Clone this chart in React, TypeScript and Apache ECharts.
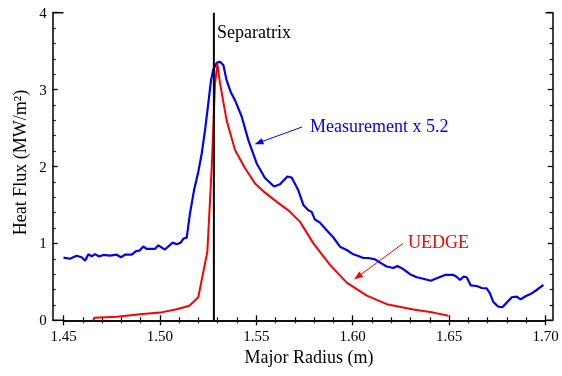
import React, { useEffect, useRef } from "react";
import * as echarts from "echarts";

// Measurement (x 5.2): [major radius (m), heat flux (MW/m^2)]
const measR = [
  1.4500, 1.4534, 1.4568, 1.4594, 1.4612, 1.4629, 1.4646, 1.4663, 1.4686, 1.4706,
  1.4741, 1.4776, 1.4798, 1.4819, 1.4854, 1.4876, 1.4893, 1.4914, 1.4931, 1.4975,
  1.4992, 1.5026, 1.5066, 1.5087, 1.5108, 1.5121, 1.5139, 1.5156, 1.5177, 1.5199,
  1.5217, 1.5234, 1.5251, 1.5265, 1.5277, 1.5295, 1.5312, 1.5329, 1.5346, 1.5367,
  1.5390, 1.5424, 1.5459, 1.5502, 1.5545, 1.5592, 1.5623, 1.5661, 1.5684, 1.5718,
  1.5744, 1.5770, 1.5787, 1.5804, 1.5830, 1.5865, 1.5899, 1.5934, 1.5969, 1.6003,
  1.6029, 1.6055, 1.6081, 1.6116, 1.6142, 1.6176, 1.6211, 1.6231, 1.6262, 1.6297,
  1.6332, 1.6366, 1.6404, 1.6436, 1.6479, 1.6522, 1.6539, 1.6557, 1.6574, 1.6591,
  1.6612, 1.6643, 1.6669, 1.6695, 1.6712, 1.6729, 1.6755, 1.6776, 1.6799, 1.6825,
  1.6851, 1.6871, 1.6899, 1.6928, 1.6954, 1.6989,
];
const measQ = [
  0.814, 0.80, 0.84, 0.82, 0.775, 0.86, 0.83, 0.86, 0.83, 0.85,
  0.84, 0.853, 0.82, 0.853, 0.853, 0.90, 0.905, 0.96, 0.93, 0.93,
  0.975, 0.92, 1.01, 0.99, 1.01, 1.06, 1.075, 1.39, 1.69, 1.93,
  2.17, 2.47, 2.82, 3.12, 3.26, 3.35, 3.36, 3.32, 3.12, 2.97,
  2.86, 2.65, 2.34, 2.04, 1.85, 1.74, 1.77, 1.87, 1.855, 1.69,
  1.50, 1.43, 1.41, 1.31, 1.27, 1.17, 1.08, 0.957, 0.914, 0.858,
  0.836, 0.81, 0.81, 0.793, 0.75, 0.70, 0.68, 0.706, 0.667, 0.60,
  0.56, 0.54, 0.515, 0.546, 0.59, 0.59, 0.567, 0.524, 0.567, 0.56,
  0.455, 0.446, 0.42, 0.416, 0.35, 0.24, 0.177, 0.17, 0.23, 0.30,
  0.307, 0.273, 0.316, 0.35, 0.394, 0.46,
];

// UEDGE simulation
const uedgeR = [
  1.4655, 1.4660, 1.4776, 1.4897, 1.5000, 1.5087, 1.5153, 1.5199, 1.5246, 1.5269,
  1.5286, 1.5298, 1.5312, 1.5346, 1.5390, 1.5441, 1.5493, 1.5545, 1.5606, 1.5666,
  1.5727, 1.5796, 1.5882, 1.5969, 1.6073, 1.6176, 1.6314, 1.6418, 1.6496,
];
const uedgeQ = [
  0.0, 0.034, 0.047, 0.078, 0.10, 0.143, 0.19, 0.30, 0.89, 2.0,
  3.08, 3.33, 3.08, 2.60, 2.21, 1.98, 1.78, 1.66, 1.54, 1.43,
  1.28, 1.00, 0.72, 0.49, 0.32, 0.21, 0.14, 0.10, 0.06,
];

const separatrixR = 1.528;

const xMin = 1.45;
const xMax = 1.70;
const xStep = 0.05;
const yMin = 0;
const yMax = 4;
const yStep = 1;

const FONT = "Liberation Serif";

function arrow(x1: number, y1: number, x2: number, y2: number, color: string) {
  const dx = x2 - x1;
  const dy = y2 - y1;
  const len = Math.sqrt(dx * dx + dy * dy);
  const ux = dx / len;
  const uy = dy / len;
  const hl = 9;
  const hw = 3.2;
  const bx = x2 - ux * hl;
  const by = y2 - uy * hl;
  const px = -uy * hw;
  const py = ux * hw;
  return [
    {
      type: "line",
      shape: { x1, y1, x2: bx + ux * 2, y2: by + uy * 2 },
      style: { stroke: color, lineWidth: 1 },
    },
    {
      type: "polygon",
      shape: {
        points: [
          [x2, y2],
          [bx + px, by + py],
          [bx - px, by - py],
        ],
      },
      style: { fill: color },
    },
  ];
}

function textEl(text: string, x: number, y: number, color: string, align: string, rotation = 0) {
  return {
    type: "text",
    x,
    y,
    rotation,
    style: {
      text,
      fontFamily: FONT,
      fontSize: 18,
      fill: color,
      align,
      verticalAlign: "middle",
    },
  };
}

function makeAxis(
  min: number,
  max: number,
  interval: number,
  position: string,
  offset: number,
  labels: boolean,
  isX: boolean
) {
  return {
    type: "value",
    min,
    max,
    interval,
    position,
    offset,
    axisLine: { show: true, lineStyle: { color: "#000", width: 1.5 } },
    axisTick: { show: true, inside: true, length: 5, lineStyle: { color: "#000", width: 1.3 } },
    minorTick: { show: true, splitNumber: 5, length: 3, lineStyle: { color: "#000", width: 1.2 } },
    splitLine: { show: false },
    axisLabel: labels
      ? {
          show: true,
          color: "#000",
          fontFamily: FONT,
          fontSize: 15,
          margin: isX ? 8 : 6,
          formatter: isX ? (v: number) => v.toFixed(2) : (v: number) => String(v),
        }
      : { show: false },
  };
}

export default function App() {
  const ref = useRef<HTMLDivElement>(null);

  useEffect(() => {
    if (!ref.current) return;
    const chart = echarts.init(ref.current, null, { renderer: "svg" });

    const gl = 63.5;
    const gr = 545.5;
    const gt = 12.7;
    const gb = 320.3;
    const frameL = 52.7;
    const frameR = 552.7;

    chart.setOption({
      animation: false,
      grid: { left: gl, right: 562 - gr, top: gt, bottom: 376 - gb },
      xAxis: [
        makeAxis(xMin, xMax, xStep, "bottom", 0, true, true),
        makeAxis(xMin, xMax, xStep, "top", 0, false, true),
      ],
      yAxis: [
        makeAxis(yMin, yMax, yStep, "left", gl - frameL, true, false),
        makeAxis(yMin, yMax, yStep, "right", frameR - gr, false, false),
      ],
      series: [
        {
          name: "Measurement x 5.2",
          type: "line",
          data: measR.map((r, i) => [r, measQ[i]]),
          showSymbol: false,
          symbol: "none",
          lineStyle: { color: "#0000ff", width: 2.2 },
          z: 3,
        },
        {
          name: "UEDGE",
          type: "line",
          data: uedgeR.map((r, i) => [r, uedgeQ[i]]),
          showSymbol: false,
          symbol: "none",
          lineStyle: { color: "#ff0000", width: 2 },
          z: 4,
        },
        {
          name: "Separatrix",
          type: "line",
          data: [
            [separatrixR, yMin],
            [separatrixR, yMax],
          ],
          showSymbol: false,
          symbol: "none",
          lineStyle: { color: "#000", width: 2 },
          z: 5,
        },
      ],
      graphic: [
        { type: "line", shape: { x1: frameL, y1: gt, x2: gl, y2: gt }, style: { stroke: "#000", lineWidth: 1.5 } },
        { type: "line", shape: { x1: frameL, y1: gb, x2: gl, y2: gb }, style: { stroke: "#000", lineWidth: 1.5 } },
        { type: "line", shape: { x1: gr, y1: gt, x2: frameR, y2: gt }, style: { stroke: "#000", lineWidth: 1.5 } },
        { type: "line", shape: { x1: gr, y1: gb, x2: frameR, y2: gb }, style: { stroke: "#000", lineWidth: 1.5 } },
        textEl("Major Radius (m)", 309, 356.5, "#000", "center"),
        textEl("Heat Flux (MW/m²)", 20, 162.5, "#000", "center", Math.PI / 2),
        textEl("Separatrix", 217, 31.5, "#000", "left"),
        textEl("Measurement x 5.2", 310, 126, "#0000ff", "left"),
        textEl("UEDGE", 408, 241.5, "#ff0000", "left"),
        ...arrow(302, 127, 254.5, 144.3, "#0000ff"),
        ...arrow(403, 243.5, 354, 279.5, "#ff0000"),
      ],
    });

    return () => chart.dispose();
  }, []);

  return (
    <div
      ref={ref}
      style={{ width: 562, height: 376, position: "fixed", left: 0, top: 0 }}
    />
  );
}
